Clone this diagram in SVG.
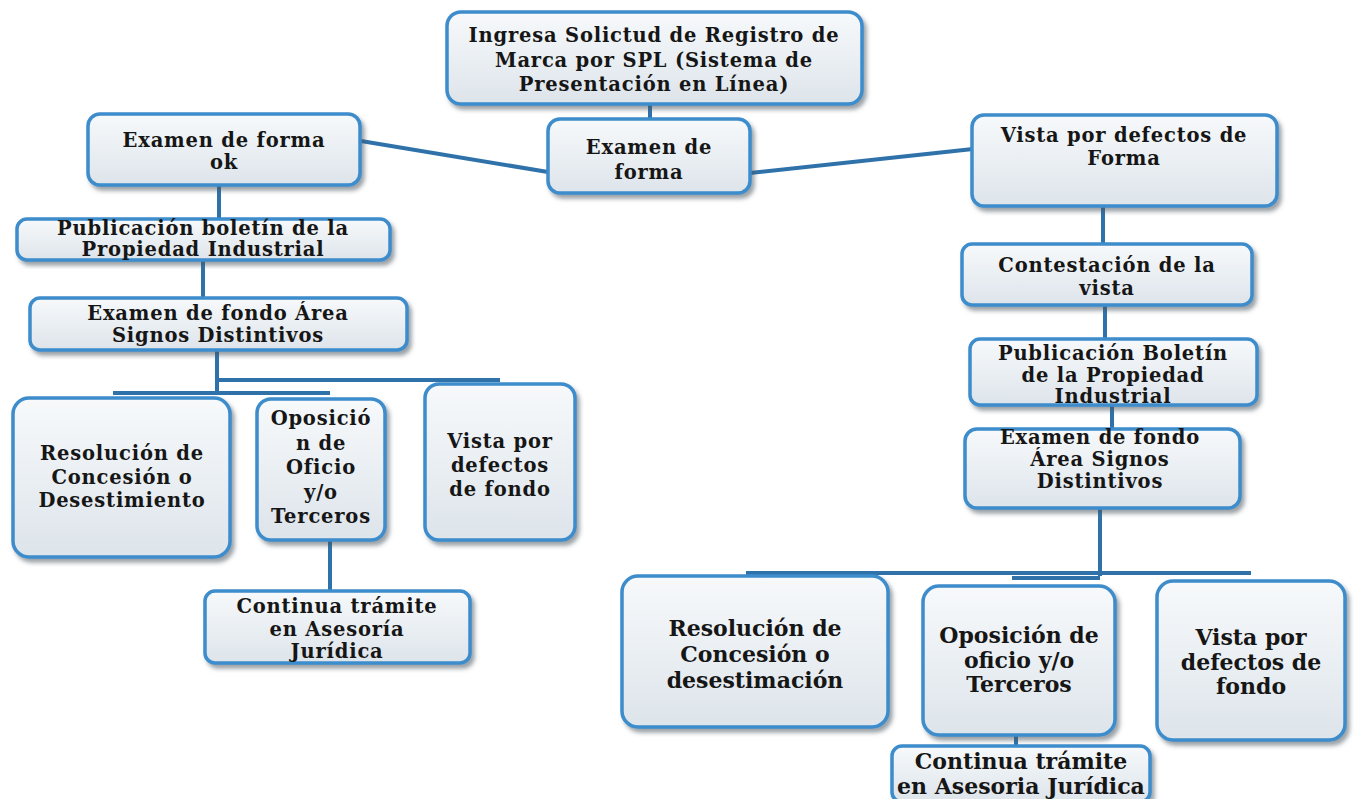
<svg xmlns="http://www.w3.org/2000/svg" width="1354" height="799" viewBox="0 0 1354 799">
<defs>
<linearGradient id="g" x1="0" y1="0" x2="0" y2="1">
<stop offset="0" stop-color="#f7f9fb"/>
<stop offset="0.5" stop-color="#eaeff3"/>
<stop offset="1" stop-color="#dde4ea"/>
</linearGradient>
<filter id="sh" x="-10%" y="-10%" width="125%" height="130%">
<feDropShadow dx="3" dy="4" stdDeviation="2" flood-color="#4a5660" flood-opacity="0.55"/>
</filter>
<style>
.b{fill:url(#g);stroke:#3d8ccb;stroke-width:3.5;filter:url(#sh)}
.t{font-family:"DejaVu Serif","Liberation Serif",serif;font-weight:bold;font-size:19.5px;fill:#161616;text-anchor:middle;letter-spacing:0.8px}
.t2{font-family:"DejaVu Serif","Liberation Serif",serif;font-weight:bold;font-size:22px;fill:#161616;text-anchor:middle}
.c{stroke:#2f72aa;stroke-width:4;fill:none}
</style>
</defs>
<rect width="1354" height="799" fill="#ffffff"/>
<g id="connectors">
<path class="c" d="M650,103 V119"/>
<path class="c" d="M548,172 L361,141"/>
<path class="c" d="M750,173 L973,149"/>
<path class="c" d="M219,184 V219"/>
<path class="c" d="M203,260 V298"/>
<path class="c" d="M217,350 V393"/>
<path class="c" d="M217,380 H500"/>
<path class="c" d="M113,393 H330"/>
<path class="c" d="M330,540 V591"/>
<path class="c" d="M1103,206 V244"/>
<path class="c" d="M1105,305 V339"/>
<path class="c" d="M1112,405 V429"/>
<path class="c" d="M1100,508 V576"/>
<path class="c" d="M746,573 H1251"/>
<path class="c" d="M1012,578 H1100"/>
<path class="c" d="M1016,735 V746"/>
</g>
<g id="n-ingresa">
<rect class="b" x="447" y="12" width="415" height="92" rx="14"/>
<text class="t" x="654" y="42"><tspan x="654">Ingresa Solictud de Registro de</tspan><tspan x="654" dy="24.5">Marca por SPL (Sistema de</tspan><tspan x="654" dy="24.5">Presentación  en Línea)</tspan></text>
</g>
<g id="n-examen-forma">
<rect class="b" x="548" y="119" width="202" height="74" rx="12"/>
<text class="t" x="649" y="154"><tspan x="649">Examen de</tspan><tspan x="649" dy="25">forma</tspan></text>
</g>
<g id="n-forma-ok">
<rect class="b" x="88" y="114" width="272" height="71" rx="12"/>
<text class="t" x="224" y="147"><tspan x="224">Examen de forma</tspan><tspan x="224" dy="22">ok</tspan></text>
</g>
<g id="n-publicacion-l">
<rect class="b" x="17" y="219" width="373" height="41" rx="10"/>
<text class="t" x="203" y="235"><tspan x="203">Publicación  boletín de la</tspan><tspan x="203" dy="21">Propiedad Industrial</tspan></text>
</g>
<g id="n-fondo-l">
<rect class="b" x="30" y="298" width="377" height="52" rx="10"/>
<text class="t" x="218" y="320"><tspan x="218">Examen de fondo Área</tspan><tspan x="218" dy="22">Signos Distintivos</tspan></text>
</g>
<g id="n-resolucion-l">
<rect class="b" x="13" y="398" width="217" height="159" rx="16"/>
<text class="t" x="122" y="460"><tspan x="122">Resolución  de</tspan><tspan x="122" dy="23.5">Concesión  o</tspan><tspan x="122" dy="23.5">Desestimiento</tspan></text>
</g>
<g id="n-oposicion-l">
<rect class="b" x="257" y="399" width="128" height="141" rx="14"/>
<text class="t" x="321" y="425"><tspan x="321">Oposició</tspan><tspan x="321" dy="24.5">n de</tspan><tspan x="321" dy="24.5">Oficio</tspan><tspan x="321" dy="24.5">y/o</tspan><tspan x="321" dy="24.5">Terceros</tspan></text>
</g>
<g id="n-vista-fondo-l">
<rect class="b" x="425" y="384" width="150" height="156" rx="14"/>
<text class="t" x="500" y="448"><tspan x="500">Vista por</tspan><tspan x="500" dy="24">defectos</tspan><tspan x="500" dy="24">de fondo</tspan></text>
</g>
<g id="n-continua-l">
<rect class="b" x="205" y="591" width="265" height="72" rx="10"/>
<text class="t" x="337" y="613"><tspan x="337">Continua trámite</tspan><tspan x="337" dy="22.5">en Asesoría</tspan><tspan x="337" dy="22.5">Jurídica</tspan></text>
</g>
<g id="n-vista-forma">
<rect class="b" x="972" y="115" width="305" height="91" rx="12"/>
<text class="t" x="1124" y="142"><tspan x="1124">Vista por defectos  de</tspan><tspan x="1124" dy="23">Forma</tspan></text>
</g>
<g id="n-contestacion">
<rect class="b" x="962" y="244" width="290" height="61" rx="10"/>
<text class="t" x="1107" y="272"><tspan x="1107">Contestación  de la</tspan><tspan x="1107" dy="23">vista</tspan></text>
</g>
<g id="n-publicacion-r">
<rect class="b" x="970" y="339" width="287" height="66" rx="10"/>
<text class="t" x="1113" y="360"><tspan x="1113">Publicación  Boletín</tspan><tspan x="1113" dy="21.5">de la Propiedad</tspan><tspan x="1113" dy="21.5">Industrial</tspan></text>
</g>
<g id="n-fondo-r">
<rect class="b" x="965" y="429" width="275" height="79" rx="12"/>
<text class="t" x="1100" y="444"><tspan x="1100">Examen de fondo</tspan><tspan x="1100" dy="22">Área Signos</tspan><tspan x="1100" dy="22">Distintivos</tspan></text>
</g>
<g id="n-resolucion-r">
<rect class="b" x="622" y="576" width="266" height="151" rx="16"/>
<text class="t2" x="755" y="636"><tspan x="755">Resolución de</tspan><tspan x="755" dy="26">Concesión o</tspan><tspan x="755" dy="26">desestimación</tspan></text>
</g>
<g id="n-oposicion-r">
<rect class="b" x="923" y="586" width="192" height="149" rx="16"/>
<text class="t2" x="1019" y="643"><tspan x="1019">Oposición  de</tspan><tspan x="1019" dy="24.5">oficio  y/o</tspan><tspan x="1019" dy="24.5">Terceros</tspan></text>
</g>
<g id="n-vista-fondo-r">
<rect class="b" x="1157" y="581" width="188" height="159" rx="16"/>
<text class="t2" x="1251" y="645"><tspan x="1251">Vista por</tspan><tspan x="1251" dy="24.5">defectos de</tspan><tspan x="1251" dy="24.5">fondo</tspan></text>
</g>
<g id="n-continua-r">
<rect class="b" x="892" y="746" width="258" height="56" rx="10"/>
<text class="t2" x="1021" y="769"><tspan x="1021">Continua trámite</tspan><tspan x="1021" dy="25">en Asesoria  Jurídica</tspan></text>
</g>
</svg>
